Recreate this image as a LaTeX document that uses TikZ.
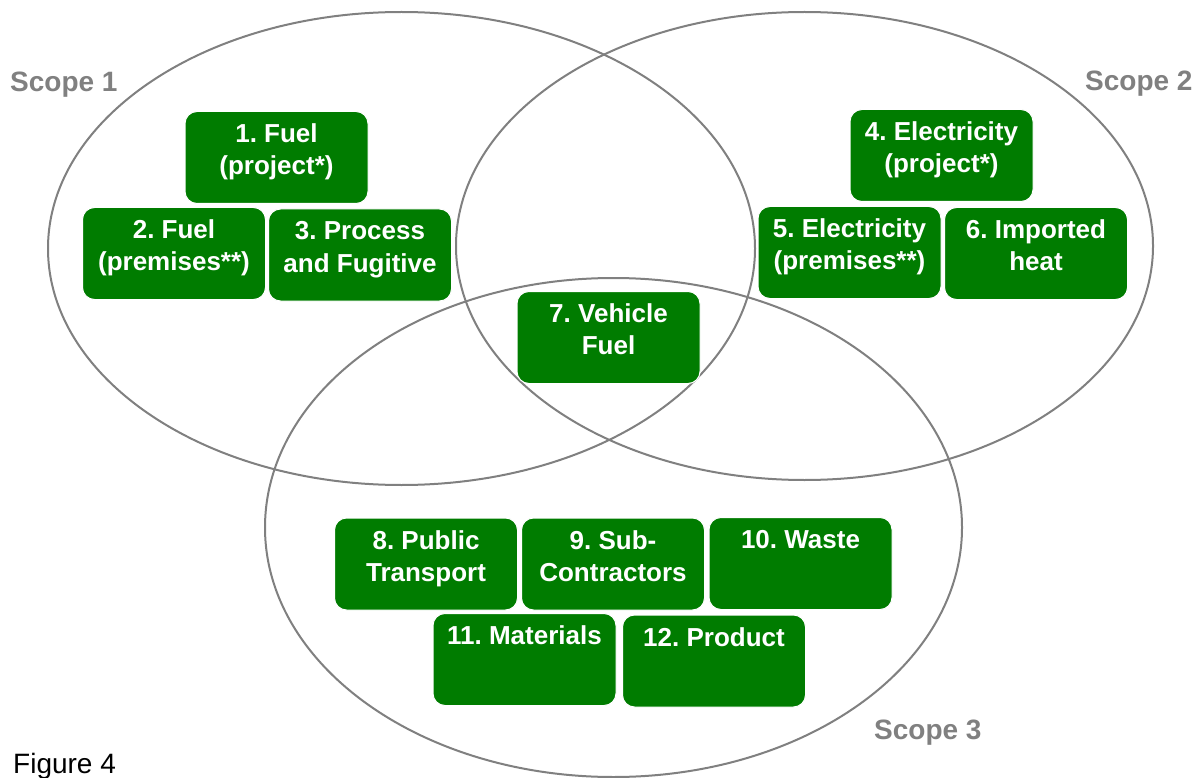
\documentclass[tikz,border=0pt]{standalone}
\usepackage{fontspec}
\setmainfont{Liberation Sans}
\frenchspacing
\definecolor{boxgreen}{RGB}{0,124,0}
\definecolor{scopegray}{RGB}{128,128,128}
\newcommand{\bxt}[1]{\parbox[c][92pt][t]{183pt}{\centering\frenchspacing\fontsize{26}{32}\selectfont\bfseries\rule{0pt}{31pt}#1}}
\tikzset{
  scopering/.style={draw=scopegray, line width=2pt},
  greenbox/.style={fill=boxgreen, draw=white, line width=1pt, rounded corners=12pt, inner sep=0pt, text=white},
  scopelabel/.style={anchor=base west, inner sep=0pt, text=scopegray, font=\fontsize{28}{32}\selectfont\bfseries}
}
\begin{document}
\begin{tikzpicture}[x=1pt,y=-1pt]
\useasboundingbox (0,0) rectangle (1202,778);
\fill[white] (0,0) rectangle (1202,778);
% scope ellipses
\draw[scopering] (401.5,248.5) ellipse [x radius=353.5, y radius=236.5];
\draw[scopering] (804.5,246) ellipse [x radius=348.5, y radius=234];
\draw[scopering] (613.5,527.5) ellipse [x radius=348.5, y radius=249.5];
% boxes
\node[greenbox] (b1) at (276.5,157.5) {\bxt{1. Fuel\\(project*)}};
\node[greenbox] (b2) at (174,253.5) {\bxt{2. Fuel\\(premises**)}};
\node[greenbox] (b3) at (360,255) {\bxt{3. Process\\and Fugitive}};
\node[greenbox] (b4) at (941.5,155.5) {\bxt{4. Electricity\\(project*)}};
\node[greenbox] (b5) at (849.5,252.5) {\bxt{5. Electricity\\(premises**)}};
\node[greenbox] (b6) at (1036,253.5) {\bxt{6. Imported\\heat}};
\node[greenbox] (b7) at (608.5,337.5) {\bxt{7. Vehicle\\Fuel}};
\node[greenbox] (b8) at (426,564) {\bxt{8. Public\\Transport}};
\node[greenbox] (b9) at (613,564) {\bxt{9. Sub-\\Contractors}};
\node[greenbox] (b10) at (800.5,563.5) {\bxt{10. Waste}};
\node[greenbox] (b11) at (524.5,659.5) {\bxt{11. Materials}};
\node[greenbox] (b12) at (714,661) {\bxt{12. Product}};
% labels
\node[scopelabel] (s1) at (10,92) {Scope 1};
\node[scopelabel] (s2) at (1085,91) {Scope 2};
\node[scopelabel] (s3) at (874,739) {Scope 3};
\node[anchor=base west, inner sep=0pt, font=\fontsize{28}{32}\selectfont] (fig) at (13,773) {Figure 4};
\end{tikzpicture}
\end{document}
